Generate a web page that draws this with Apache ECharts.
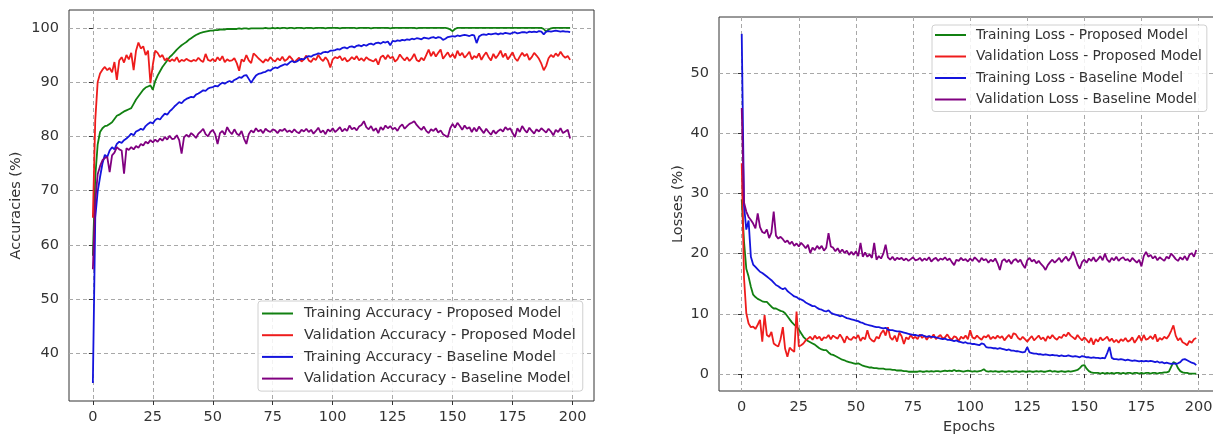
<!DOCTYPE html>
<html>
<head>
<meta charset="utf-8">
<script src="https://cdn.jsdelivr.net/npm/echarts@6/dist/echarts.min.js"></script>
<style>
  html, body { margin: 0; padding: 0; background: #fff; }
  #chart { width: 1213px; height: 434px; }
</style>
</head>
<body>
<div id="chart"></div>
<script>
// tick labels
const xTicks = [0, 25, 50, 75, 100, 125, 150, 175, 200];
const accTicks = [40, 50, 60, 70, 80, 90, 100];
const lossTicks = [0, 10, 20, 30, 40, 50];

// accuracy (%) per epoch, 0..199
const trainAccProposed = [
  58.0, 72.5, 78.5, 80.8, 81.5, 81.9, 82.0, 82.3, 82.6, 83.2,
  83.8, 84.0, 84.3, 84.6, 84.8, 85.0, 85.2, 86.0, 86.8, 87.4,
  88.0, 88.6, 89.0, 89.2, 89.4, 88.6, 90.2, 91.2, 92.0, 92.8,
  93.4, 94.0, 94.6, 95.0, 95.5, 96.0, 96.4, 96.8, 97.1, 97.4,
  97.8, 98.1, 98.4, 98.7, 98.9, 99.1, 99.2, 99.3, 99.4, 99.5,
  99.5, 99.6, 99.6, 99.7, 99.7, 99.7, 99.8, 99.8, 99.8, 99.8,
  99.8, 99.9, 99.8, 99.9, 99.9, 99.8, 99.9, 99.9, 99.9, 99.9,
  99.9, 99.9, 100, 99.9, 99.9, 100, 99.9, 100, 99.9, 100,
  100, 99.9, 100, 100, 99.9, 100, 100, 100, 99.9, 100,
  100, 100, 99.9, 100, 100, 100, 100, 99.9, 100, 100,
  100, 100, 100, 99.9, 100, 100, 100, 100, 100, 100,
  99.9, 100, 100, 100, 100, 100, 99.9, 100, 100, 100,
  100, 100, 100, 100, 99.9, 100, 100, 100, 100, 100,
  100, 100, 100, 100, 100, 99.9, 100, 100, 100, 100,
  100, 100, 100, 100, 100, 100, 100, 100, 99.9, 99.7,
  99.4, 99.8, 100, 100, 100, 100, 100, 100, 100, 100,
  100, 100, 100, 100, 100, 100, 100, 100, 100, 100,
  100, 100, 100, 100, 100, 100, 100, 100, 100, 100,
  100, 100, 100, 100, 100, 100, 100, 100, 99.8, 99.3,
  99.7, 99.9, 100, 100, 100, 100, 100, 100, 100, 100
];
const valAccProposed = [
  65.0, 83.0, 90.0, 91.6, 92.3, 92.8, 92.2, 92.6, 91.8, 93.7,
  90.4, 94.0, 94.6, 93.6, 95.0, 94.2, 95.4, 92.2, 95.8, 97.3,
  96.2, 96.6, 95.0, 95.8, 89.8, 93.2, 95.8, 95.4, 94.6, 95.0,
  94.0, 94.4, 93.8, 94.2, 93.9, 94.6, 93.7, 94.1, 93.9, 94.3,
  94.0, 93.8, 94.1, 93.9, 94.5, 94.0, 93.7, 95.2, 94.1, 93.9,
  94.3, 93.8, 94.6, 94.0, 94.8, 93.7, 94.2, 93.9, 94.0, 94.4,
  93.5, 92.1, 94.2, 93.8, 95.0, 94.0, 93.5, 95.3, 94.9, 94.4,
  94.0, 93.6, 94.2, 93.9, 94.6, 94.1, 93.8, 94.4, 94.0, 94.7,
  93.9, 94.2, 94.8, 94.3, 93.6, 94.1, 94.5, 93.8, 94.2, 94.9,
  94.0, 93.7, 94.4, 94.1, 95.0, 94.3, 93.9, 94.6, 94.0, 92.7,
  94.2, 94.6, 94.4, 94.8, 94.0, 94.5, 93.8, 94.1, 94.6, 94.2,
  94.8, 94.0, 94.4, 93.9, 94.6, 94.2, 94.0, 93.8, 94.3, 93.2,
  94.6, 94.9, 94.2, 95.0, 94.4, 94.7, 93.8, 94.2, 95.1, 94.5,
  94.0, 94.6, 93.9, 94.4, 95.2, 94.1, 93.8, 94.5, 94.0, 95.0,
  96.0, 94.8, 95.6, 94.7, 95.4, 96.0, 94.3, 94.9, 95.5, 94.6,
  95.2, 94.4, 95.8, 94.9, 95.4, 94.5, 95.0, 95.6, 94.2, 94.8,
  94.5, 95.3, 94.1, 94.9, 95.5, 94.6, 94.0, 95.2, 94.4, 95.0,
  95.8, 94.6, 95.3, 94.2, 94.8, 95.5, 94.4, 93.9, 94.7, 95.4,
  94.8, 95.2, 94.1, 94.6, 95.4, 94.9, 94.3, 93.4, 92.2, 93.0,
  94.4, 95.0, 94.6, 95.3, 94.8, 95.6, 94.9, 94.5, 94.8, 94.1
];
const trainAccBaseline = [
  34.5, 65.0, 69.8, 72.5, 75.0, 76.6, 76.2, 77.4, 78.0, 77.6,
  78.6, 79.0, 78.8, 79.3, 79.6, 80.0, 80.5, 80.2, 80.9, 81.1,
  81.4, 81.2, 81.9, 82.3, 82.6, 82.4, 83.0, 83.3, 83.1, 83.7,
  84.2, 84.0, 84.6, 85.0, 85.5, 85.9, 86.3, 86.1, 86.6, 86.9,
  87.1, 87.3, 87.2, 87.7, 87.9, 88.2, 88.5, 88.4, 88.8, 89.0,
  89.1, 89.3, 89.2, 89.6, 89.9, 89.7, 90.0, 90.2, 90.0, 90.4,
  90.6, 90.9, 90.8, 91.2, 91.3, 90.6, 89.9, 90.6, 91.2, 91.5,
  91.6, 91.8, 91.9, 92.2, 92.1, 92.5, 92.7, 92.6, 92.9, 93.1,
  93.3, 93.2, 93.6, 93.9, 93.7, 93.8, 94.1, 94.3, 94.2, 94.6,
  94.8, 94.7, 95.0, 95.1, 95.3, 95.2, 95.5, 95.6, 95.5, 95.8,
  95.8, 95.9, 96.1, 96.0, 96.3, 96.4, 96.2, 96.5, 96.6, 96.4,
  96.7, 96.8, 96.6, 96.9, 96.7, 97.0, 97.1, 96.9, 97.2, 97.3,
  97.1, 97.4, 97.3, 97.5, 96.8, 97.6, 97.5, 97.7, 97.6, 97.8,
  97.7, 97.9, 97.8, 98.0, 97.9, 98.1, 98.0, 97.9, 98.2, 98.1,
  98.0, 98.2, 98.3, 98.1, 98.3, 98.2, 97.8, 98.0, 98.3, 98.4,
  98.5, 98.4, 98.6, 98.5, 98.6, 98.7, 98.6, 98.5, 98.7, 98.6,
  97.2, 98.4, 98.7, 98.8, 98.7, 98.9, 98.8, 98.9, 99.0, 98.8,
  99.0, 98.9, 99.1, 99.0, 98.9, 99.1, 99.2, 99.0, 99.1, 99.2,
  99.2, 99.1, 99.3, 99.2, 99.3, 99.2, 99.4, 99.3, 98.8, 99.3,
  99.4, 99.3, 99.4, 99.5, 99.4, 99.3, 99.4, 99.3, 99.3, 99.2
];
const valAccBaseline = [
  55.5, 68.0, 73.0, 74.5, 75.6, 76.0, 76.2, 73.4, 76.5, 77.0,
  78.0, 77.6, 77.4, 73.1, 77.8, 77.5, 78.0, 77.6, 78.2, 77.9,
  78.6, 78.3, 79.0, 78.7, 79.3, 78.9, 79.4, 79.0, 79.6, 79.2,
  79.9, 79.4, 80.1, 79.5, 79.6, 80.2, 79.3, 76.8, 79.8, 80.3,
  79.9, 80.6, 80.2, 79.7, 80.5, 80.9, 81.4, 80.4, 80.0, 80.8,
  81.2, 80.4, 78.6, 80.6, 81.0, 80.3, 81.7, 80.9, 80.4, 81.3,
  80.5, 80.2, 81.0, 79.6, 78.6, 80.4, 81.1, 80.7, 81.5, 80.9,
  81.2, 80.6, 81.4, 81.0, 80.8, 81.3, 81.1, 80.6, 81.2, 81.0,
  81.4, 80.8, 81.1, 80.7, 81.3, 80.8, 80.6, 81.2, 80.9, 81.4,
  80.8, 81.2, 80.5, 81.0, 81.6, 80.7, 81.1, 80.4, 81.3, 80.9,
  81.5, 80.8, 81.2, 81.7, 80.9, 81.4, 81.0, 82.0, 81.3, 81.6,
  81.1, 81.8, 82.1, 82.8, 81.7, 81.3, 81.9, 81.0, 81.5, 80.6,
  81.7, 81.2, 82.0, 81.5, 81.9, 81.3, 81.6, 81.0, 81.8, 82.2,
  81.4, 81.9, 82.3, 82.5, 82.8, 82.1, 81.6, 81.2, 81.8, 81.0,
  80.6, 81.3, 81.0, 81.5, 80.7, 81.1, 80.4, 80.1, 79.9, 81.5,
  82.3, 81.6, 82.5, 81.9, 81.2, 82.0, 81.4, 81.7, 80.8, 81.6,
  80.9, 81.8, 81.2, 80.6, 81.4, 80.8, 80.3, 81.1, 80.5, 81.0,
  81.3, 80.9, 81.7, 81.2, 81.5, 80.6, 79.9, 81.5, 80.8, 81.9,
  81.2, 80.7, 81.6, 81.0, 80.5, 81.3, 80.9, 81.5, 81.1, 80.7,
  81.4, 80.9, 80.2, 81.2, 80.8, 81.5, 80.6, 80.9, 81.2, 79.6
];

// losses (%) per epoch, 0..199
const trainLossProposed = [
  29.0, 22.0, 17.5, 16.2, 14.5, 13.2, 12.8, 12.5, 12.3, 12.1,
  12.0, 12.0, 11.6, 11.2, 10.9, 10.9, 10.7, 10.5, 10.4, 10.1,
  9.6, 9.1, 8.6, 8.2, 7.9, 7.4, 6.8, 6.2, 5.8, 5.5,
  5.3, 5.1, 4.9, 4.6, 4.3, 4.1, 4.0, 4.0, 3.6, 3.3,
  3.2, 3.0, 2.8, 2.6, 2.4, 2.3, 2.1, 2.0, 1.9, 1.8,
  1.7, 1.8, 1.6, 1.4, 1.3, 1.2, 1.1, 1.1, 1.0, 1.0,
  0.9, 0.9, 0.9, 0.8, 0.8, 0.8, 0.7, 0.7, 0.6, 0.6,
  0.6, 0.5, 0.5, 0.4, 0.4, 0.4, 0.4, 0.4, 0.5, 0.4,
  0.4, 0.5, 0.4, 0.5, 0.4, 0.5, 0.5, 0.4, 0.5, 0.6,
  0.5, 0.6, 0.5, 0.7, 0.5, 0.6, 0.5, 0.4, 0.5, 0.6,
  0.5, 0.4, 0.5, 0.4, 0.5, 0.6, 0.8, 0.5, 0.4, 0.5,
  0.4, 0.5, 0.4, 0.4, 0.5, 0.4, 0.4, 0.5, 0.4, 0.4,
  0.5, 0.4, 0.4, 0.5, 0.4, 0.4, 0.5, 0.4, 0.4, 0.5,
  0.4, 0.5, 0.4, 0.4, 0.5, 0.6, 0.4, 0.5, 0.4, 0.4,
  0.5, 0.4, 0.4, 0.5, 0.4, 0.5, 0.6, 0.7, 1.0, 1.4,
  1.5, 0.9, 0.5, 0.3, 0.2, 0.2, 0.2, 0.1, 0.2, 0.1,
  0.2, 0.1, 0.2, 0.1, 0.2, 0.2, 0.1, 0.2, 0.1, 0.2,
  0.2, 0.1, 0.2, 0.2, 0.1, 0.2, 0.1, 0.2, 0.2, 0.1,
  0.2, 0.2, 0.1, 0.2, 0.2, 0.3, 0.3, 0.4, 1.2, 2.0,
  1.8, 1.0, 0.5, 0.3, 0.2, 0.2, 0.1, 0.1, 0.1, 0.1
];
const valLossProposed = [
  35.0, 16.0, 10.1, 8.4, 7.8, 7.9, 7.5, 8.2, 9.0, 5.4,
  9.8, 6.5, 6.2, 7.0, 5.1, 4.8, 4.6, 5.8, 7.8, 4.2,
  2.9, 4.4, 4.0, 3.7, 10.4, 4.6, 4.8, 5.1, 5.6, 5.9,
  6.2, 5.7, 6.4, 5.9, 6.2, 5.6, 6.1, 6.0, 6.5, 5.8,
  6.4, 6.1, 5.9, 6.6, 6.0, 5.2, 6.3, 5.8, 5.7, 6.2,
  5.9, 6.5, 5.5, 6.1, 5.8, 7.3, 6.0, 5.6, 5.4, 6.2,
  5.9, 6.8, 7.3, 6.4, 7.8, 6.1, 5.7, 6.4, 5.4, 6.9,
  6.3, 5.0, 6.1, 5.8, 6.5, 5.9, 6.2, 5.8, 6.6, 6.0,
  6.4, 5.7, 6.3, 6.0, 6.6, 5.8, 6.2, 6.5, 5.9, 6.1,
  6.6, 6.0, 5.7, 6.3, 6.1, 5.5, 6.2, 5.9, 6.4, 5.8,
  7.3, 6.1, 5.9, 6.4, 6.0, 5.7, 6.3, 6.1, 6.5, 5.8,
  6.2, 5.9, 6.4, 6.0, 6.3, 5.6, 6.1, 6.5, 5.9, 6.8,
  6.6, 6.0, 5.7, 6.2, 5.8, 5.4, 5.9, 6.3, 5.6, 6.0,
  6.4, 5.8, 6.1, 5.5, 6.3, 5.9, 6.5, 6.0, 5.7, 6.2,
  6.0, 6.6, 6.3, 6.9, 6.4, 6.1, 5.8, 6.5, 6.0, 5.6,
  6.1, 5.7, 5.2, 6.0, 4.9, 5.8, 5.4, 6.1, 5.6, 5.9,
  6.2, 5.5, 5.9, 5.3, 5.7, 5.2, 5.8, 5.5, 6.0, 5.4,
  5.6, 6.1, 5.2, 5.8, 6.4, 5.5, 6.5, 5.7, 5.9, 6.3,
  5.8, 6.6, 5.4, 6.0, 5.7, 6.2, 5.9, 6.4, 7.2, 8.1,
  6.4, 5.6, 6.0, 5.3, 5.1, 4.8, 5.5, 5.2, 5.8, 6.0
];
const trainLossBaseline = [
  56.5, 28.0, 24.0, 25.5, 19.5, 18.2, 17.8, 17.4, 17.0, 16.8,
  16.5, 16.2, 15.9, 15.6, 15.2, 14.8, 14.6, 14.3, 14.1, 14.3,
  13.8, 13.5, 13.2, 12.9, 12.8, 12.5, 12.4, 12.2, 11.9, 11.7,
  11.5, 11.3, 11.3, 11.0, 10.8, 10.7, 10.5, 10.4, 10.6, 10.2,
  10.0, 9.9, 9.8, 9.6, 9.7, 9.5, 9.3, 9.2, 9.1, 9.0,
  8.9, 8.8, 8.6, 8.5, 8.3, 8.2, 8.1, 8.0, 7.9, 7.8,
  7.8, 7.7, 7.6, 7.7, 7.4, 7.3, 7.3, 7.2, 7.1, 7.1,
  7.0, 6.9, 6.8, 6.7, 6.6, 6.5, 6.5, 6.4, 6.4, 6.5,
  6.3, 6.2, 6.3, 6.2, 6.2, 6.1, 6.0, 5.9, 5.8, 5.9,
  5.7, 5.7, 5.6, 5.5, 5.6, 5.4, 5.3, 5.2, 5.3, 5.1,
  5.1, 5.0, 5.0, 4.9, 4.8, 5.1, 5.0, 4.5, 4.4, 4.4,
  4.3, 4.3, 4.2, 4.3, 4.2, 4.1, 4.0, 4.1, 3.9, 3.9,
  3.8, 3.8, 3.7, 3.6, 3.7, 4.5, 3.6, 3.5, 3.4, 3.4,
  3.3, 3.3, 3.2, 3.3, 3.2, 3.1, 3.2, 3.1, 3.1, 3.0,
  3.1, 3.0, 3.0, 3.1, 3.0, 2.9, 3.0, 2.9, 2.8, 3.0,
  2.9, 2.8, 2.8, 2.7, 2.8, 2.7, 2.7, 2.6, 2.7, 2.6,
  3.5, 4.5, 2.7, 2.5, 2.5, 2.4, 2.5, 2.4, 2.3, 2.4,
  2.3, 2.2, 2.3, 2.2, 2.1, 2.2, 2.1, 2.2, 2.1, 2.2,
  2.1, 2.0, 2.1, 1.9, 2.0, 1.8, 1.9, 1.8, 1.7, 1.8,
  1.7, 1.8, 2.0, 2.4, 2.5, 2.3, 2.1, 1.9, 1.8, 1.5
];
const valLossBaseline = [
  44.2, 28.5, 27.0, 26.1, 25.6, 25.0, 24.2, 26.7, 24.4, 23.6,
  23.4, 24.0, 22.6, 23.5, 27.0, 23.0, 22.5, 22.8, 22.4, 21.9,
  22.2, 21.6, 22.0, 21.3, 21.7, 21.2, 21.8, 21.4, 20.9, 21.5,
  20.1, 21.0, 20.6, 21.3, 20.8, 21.3, 20.5, 21.0, 23.4, 21.2,
  21.0, 20.4, 20.9, 20.2, 20.7, 20.1, 20.5, 19.8, 20.3, 19.8,
  20.4, 19.6, 21.8, 19.5, 20.2, 19.5, 19.9, 19.3, 21.8, 19.0,
  19.6, 19.2, 20.0, 21.5, 19.4, 19.0, 19.5, 18.9, 19.3, 19.1,
  19.3, 18.9, 19.2, 18.8, 19.1, 19.4, 18.9, 19.0, 19.3, 18.8,
  19.2, 18.9, 19.4, 18.7, 19.1, 19.3, 18.8, 19.2, 19.0, 19.4,
  18.9, 19.2, 18.6, 18.1, 19.0, 18.8, 19.3, 18.9, 19.1, 18.7,
  19.2, 18.8, 19.4, 19.0, 18.6, 19.3, 18.9, 19.1, 18.5, 19.0,
  18.7, 19.2, 18.4, 17.3, 18.8, 19.1, 18.6, 19.0, 18.3, 18.9,
  19.1, 18.6, 19.0, 18.2, 17.6, 18.9, 19.3, 18.7, 19.0, 18.4,
  18.8, 18.3, 17.9, 17.3, 18.1, 18.6, 19.0, 18.5, 18.9, 19.3,
  18.6, 19.1, 19.5, 18.8, 19.3, 20.3, 19.4, 18.2, 17.5, 18.6,
  19.0, 18.5, 19.2, 18.8, 19.4, 18.7, 19.1, 19.6, 18.9, 20.0,
  19.0, 18.6, 19.3, 18.9, 19.5, 18.8, 19.2, 19.4, 18.9, 19.1,
  18.7, 19.3, 18.9, 18.5, 19.0, 17.9, 19.6, 20.3, 19.5, 19.8,
  19.2, 19.6, 18.9, 19.4, 19.1, 18.8, 19.5, 19.2, 20.0, 19.6,
  19.1, 18.8, 19.4, 19.0, 19.6, 18.9, 19.8, 20.1, 19.5, 20.6
];

const GREEN = "#118011";
const RED = "#ee1c1c";
const BLUE = "#1414dd";
const PURPLE = "#800080";
const FONT = "DejaVu Sans";
const FS = 14.5;

function pairs(arr) {
  return arr.map((v, i) => [i, v]);
}

function line(name, arr, color, idx) {
  return {
    name: name,
    type: "line",
    xAxisIndex: idx,
    yAxisIndex: idx,
    data: pairs(arr),
    showSymbol: false,
    symbol: "none",
    lineStyle: { color: color, width: 1.8 },
    itemStyle: { color: color }
  };
}

function xAxisOf(idx, name) {
  return {
    type: "value",
    gridIndex: idx,
    min: -9.95,
    max: 208.95,
    name: name,
    nameLocation: "middle",
    nameGap: 27,
    nameTextStyle: { fontFamily: FONT, fontSize: FS, color: "#333" },
    axisLine: { show: false },
    axisTick: { show: true, length: 4, customValues: xTicks, lineStyle: { color: "#333" } },
    axisLabel: { customValues: xTicks, margin: 9, fontFamily: FONT, fontSize: FS, color: "#333" },
    splitLine: { show: true, lineStyle: { color: "#a8a8a8", type: [4, 3], width: 1 } }
  };
}

function yAxisOf(idx, min, max, ticks, name, gap) {
  return {
    type: "value",
    gridIndex: idx,
    min: min,
    max: max,
    name: name,
    nameLocation: "middle",
    nameGap: gap,
    nameRotate: 90,
    nameTextStyle: { fontFamily: FONT, fontSize: FS, color: "#333" },
    axisLine: { show: false },
    axisTick: { show: true, length: 4, customValues: ticks, lineStyle: { color: "#333" } },
    axisLabel: { customValues: ticks, margin: 10, fontFamily: FONT, fontSize: FS, color: "#333" },
    splitLine: { show: true, lineStyle: { color: "#a8a8a8", type: [4, 3], width: 1 } }
  };
}

function legendOf(names, left, top, padding, fs, gap, textGap) {
  return {
    orient: "vertical",
    left: left,
    top: top,
    data: names,
    icon: "rect",
    itemWidth: 31,
    itemHeight: 2,
    itemGap: gap,
    padding: padding,
    borderColor: "#d0d0d0",
    borderWidth: 1,
    borderRadius: 3,
    backgroundColor: "rgba(255,255,255,0.85)",
    textStyle: { fontFamily: FONT, fontSize: fs, color: "#333", padding: [0, 0, 0, textGap] }
  };
}

const chart = echarts.init(document.getElementById("chart"));
chart.setOption({
  animation: false,
  backgroundColor: "#fff",
  grid: [
    { left: 69, top: 10, width: 525, height: 391, outerBoundsMode: "none", show: true, borderColor: "#333", borderWidth: 1, backgroundColor: "transparent" },
    { left: 719, top: 17, width: 500, height: 374, outerBoundsMode: "none", show: true, borderColor: "#333", borderWidth: 1, backgroundColor: "transparent" }
  ],
  xAxis: [xAxisOf(0, ""), xAxisOf(1, "Epochs")],
  yAxis: [
    yAxisOf(0, 31.2, 103.3, accTicks, "Accuracies (%)", 45),
    yAxisOf(1, -2.8, 59.3, lossTicks, "Losses (%)", 33)
  ],
  legend: [
    legendOf([
      "Training Accuracy - Proposed Model",
      "Validation Accuracy - Proposed Model",
      "Training Accuracy - Baseline Model",
      "Validation Accuracy - Baseline Model"
    ], 258, 301, [5, 7, 5, 4], FS, 6.7, 6),
    legendOf([
      "Training Loss - Proposed Model",
      "Validation Loss - Proposed Model",
      "Training Loss - Baseline Model",
      "Validation Loss - Baseline Model"
    ], 932, 25, [3, 5, 5, 3], 13.8, 7.5, 5)
  ],
  series: [
    line("Training Accuracy - Proposed Model", trainAccProposed, GREEN, 0),
    line("Validation Accuracy - Proposed Model", valAccProposed, RED, 0),
    line("Training Accuracy - Baseline Model", trainAccBaseline, BLUE, 0),
    line("Validation Accuracy - Baseline Model", valAccBaseline, PURPLE, 0),
    line("Training Loss - Proposed Model", trainLossProposed, GREEN, 1),
    line("Validation Loss - Proposed Model", valLossProposed, RED, 1),
    line("Training Loss - Baseline Model", trainLossBaseline, BLUE, 1),
    line("Validation Loss - Baseline Model", valLossBaseline, PURPLE, 1)
  ]
});
</script>
</body>
</html>
